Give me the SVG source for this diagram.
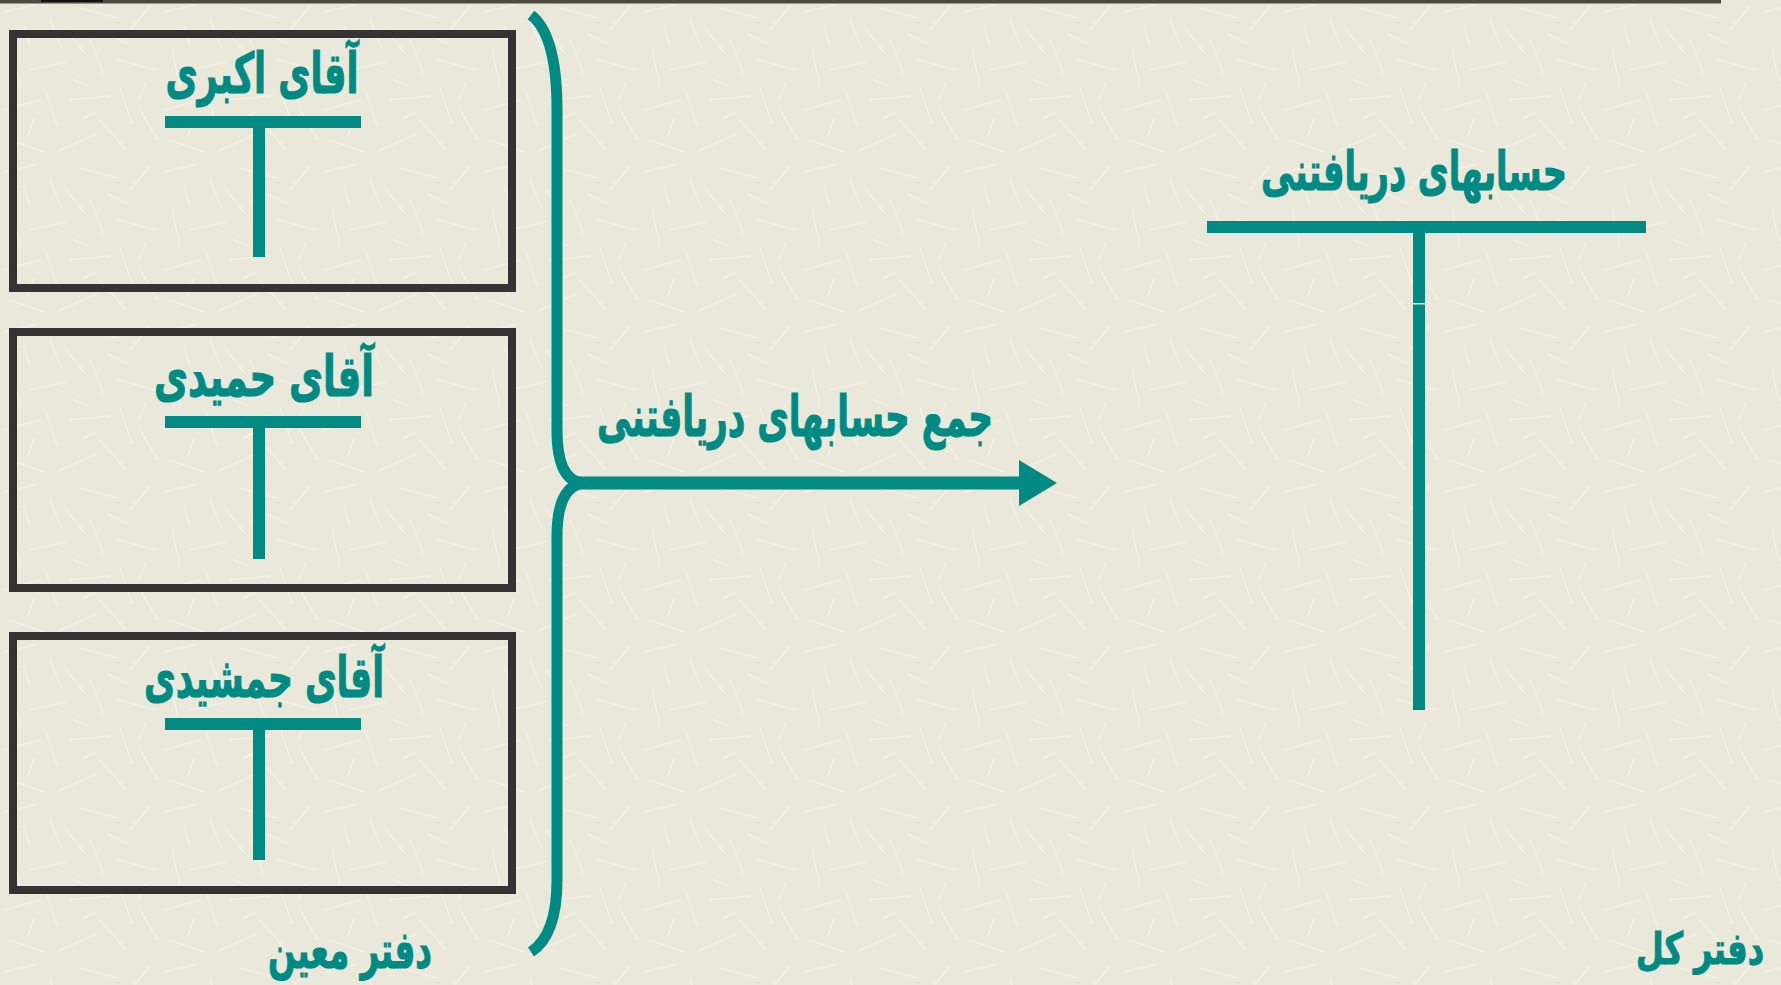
<svg xmlns="http://www.w3.org/2000/svg" width="1781" height="985" viewBox="0 0 1781 985">
<defs>
<style>
.box{fill:none;stroke:#333333;stroke-width:8}
.teal{fill:#008A84}
.brace{fill:none;stroke:#008A84;stroke-width:11;stroke-linecap:butt}
.t{font-family:"DejaVu Sans",sans-serif;font-weight:bold;fill:#008A84;stroke:#008A84;stroke-width:1.2;text-anchor:middle}
.streak{stroke:#F6F4EA;stroke-width:1.6;stroke-linecap:round;opacity:.7}
</style>
<pattern id="bg" width="160" height="160" patternUnits="userSpaceOnUse">
<rect width="160" height="160" fill="#EAE8DA"/>
<g class="streak">
<line x1="5" y1="12" x2="38" y2="4"/>
<line x1="50" y1="20" x2="62" y2="48"/>
<line x1="80" y1="8" x2="118" y2="18"/>
<line x1="130" y1="30" x2="150" y2="6"/>
<line x1="12" y1="50" x2="20" y2="86"/>
<line x1="30" y1="70" x2="66" y2="62"/>
<line x1="90" y1="40" x2="104" y2="74"/>
<line x1="118" y1="60" x2="156" y2="70"/>
<line x1="4" y1="110" x2="40" y2="100"/>
<line x1="46" y1="92" x2="58" y2="128"/>
<line x1="70" y1="100" x2="110" y2="96"/>
<line x1="120" y1="88" x2="132" y2="124"/>
<line x1="140" y1="110" x2="158" y2="140"/>
<line x1="10" y1="140" x2="44" y2="152"/>
<line x1="60" y1="150" x2="96" y2="134"/>
<line x1="100" y1="120" x2="126" y2="150"/>
<line x1="24" y1="26" x2="30" y2="44"/>
<line x1="74" y1="80" x2="88" y2="86"/>
<line x1="66" y1="30" x2="84" y2="52"/>
<line x1="108" y1="34" x2="128" y2="44"/>
<line x1="34" y1="118" x2="28" y2="136"/>
<line x1="84" y1="118" x2="96" y2="112"/>
<line x1="146" y1="84" x2="138" y2="100"/>
</g>
</pattern>
</defs>
<rect width="1781" height="985" fill="url(#bg)"/>
<rect x="0" y="0" width="1721" height="3.5" fill="#4D4A42"/>
<rect x="41" y="0" width="62" height="2" fill="#111111"/>

<g id="box-akbari">
<rect class="box" x="13" y="34" width="499" height="254"/>
<text class="t" x="262" y="93" font-size="56" textLength="193" lengthAdjust="spacingAndGlyphs">آقای اکبری</text>
<rect class="teal" x="165" y="116" width="196" height="12"/>
<rect class="teal" x="253" y="128" width="12" height="129"/>
</g>

<g id="box-hamidi">
<rect class="box" x="13" y="332" width="499" height="256"/>
<text class="t" x="264" y="396" font-size="56" textLength="220" lengthAdjust="spacingAndGlyphs">آقای حمیدی</text>
<rect class="teal" x="165" y="416" width="196" height="12"/>
<rect class="teal" x="253" y="428" width="12" height="131"/>
</g>

<g id="box-jamshidi">
<rect class="box" x="13" y="636" width="499" height="254"/>
<text class="t" x="264" y="697" font-size="56" textLength="240" lengthAdjust="spacingAndGlyphs">آقای جمشیدی</text>
<rect class="teal" x="165" y="718" width="196" height="12"/>
<rect class="teal" x="253" y="730" width="12" height="130"/>
</g>

<g id="connectors">
<path class="brace" d="M531,15 Q557,35 557,110 L557,430 Q557,481 583,483"/>
<path class="brace" d="M583,483 Q557,487 557,536 L557,880 Q557,935 531,952"/>
<rect class="teal" x="578" y="476.5" width="444" height="13"/>
<polygon class="teal" points="1019,460 1057,483 1019,506"/>
</g>

<g id="label-sum">
<text class="t" x="795" y="436" font-size="56" textLength="396" lengthAdjust="spacingAndGlyphs">جمع حسابهای دریافتنی</text>
</g>

<g id="ledger-receivables">
<text class="t" x="1414" y="190" font-size="54" textLength="306" lengthAdjust="spacingAndGlyphs">حسابهای دریافتنی</text>
<rect class="teal" x="1207" y="221" width="439" height="12"/>
<rect class="teal" x="1413" y="233" width="12" height="70"/>
<rect class="teal" x="1413" y="304.5" width="12" height="405.5"/>
</g>

<g id="label-subsidiary">
<text class="t" x="350" y="968" font-size="52" textLength="164" lengthAdjust="spacingAndGlyphs">دفتر معین</text>
</g>
<g id="label-general">
<text class="t" x="1700" y="964" font-size="44" textLength="128" lengthAdjust="spacingAndGlyphs">دفتر کل</text>
</g>
</svg>
